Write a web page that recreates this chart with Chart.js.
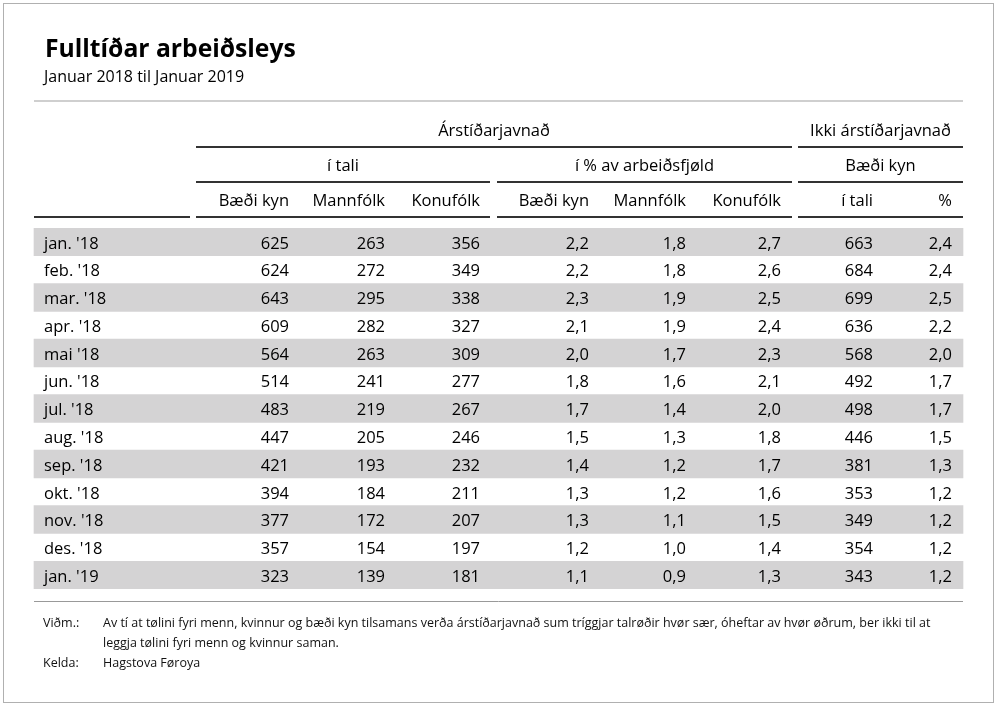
<!DOCTYPE html>
<html>
<head>
<meta charset="utf-8">
<script src="https://cdn.jsdelivr.net/npm/chart.js@4/dist/chart.umd.min.js"></script>
<style>
  html, body { margin: 0; padding: 0; background: #fff; }
  #wrap { position: relative; width: 1000px; height: 705px; font-family: "Open Sans", sans-serif; color: #000; }
  #frame { position: absolute; left: 3px; top: 3px; width: 989px; height: 698px; border: 1px solid #b0b0b0; }
  canvas { position: absolute; left: 0; top: 0; }
  .txt { position: absolute; white-space: nowrap; }
  #title { left: 45px; top: 34px; font-size: 24.7px; font-weight: bold; line-height: 28px; }
  #sub { left: 44px; top: 66px; font-size: 16px; line-height: 20px; }
  .note { font-size: 12.5px; line-height: 20px; color: #111; }
</style>
</head>
<body>
<div id="wrap">
  <div id="frame"></div>
  <canvas id="tbl" width="1000" height="705"></canvas>
  <div class="txt" id="title">Fulltíðar arbeiðsleys</div>
  <div class="txt" id="sub">Januar 2018 til Januar 2019</div>
  <div class="txt note" style="left:43px;top:613px">Viðm.:</div>
  <div class="txt note" style="left:103px;top:613px">Av tí at tølini fyri menn, kvinnur og bæði kyn tilsamans verða árstíðarjavnað sum tríggjar talrøðir hvør sær, óheftar av hvør øðrum, ber ikki til at</div>
  <div class="txt note" style="left:103px;top:633px">leggja tølini fyri menn og kvinnur saman.</div>
  <div class="txt note" style="left:43px;top:653px">Kelda:</div>
  <div class="txt note" style="left:103px;top:653px">Hagstova Føroya</div>
</div>
<script>
// rows
const months = ["jan. '18","feb. '18","mar. '18","apr. '18","mai '18","jun. '18","jul. '18","aug. '18","sep. '18","okt. '18","nov. '18","des. '18","jan. '19"];
// Árstíðarjavnað, í tali
const baediTal = [625,624,643,609,564,514,483,447,421,394,377,357,323];
const mannTal  = [263,272,295,282,263,241,219,205,193,184,172,154,139];
const konuTal  = [356,349,338,327,309,277,267,246,232,211,207,197,181];
// Árstíðarjavnað, í % av arbeiðsfjøld
const baediPct = [2.2,2.2,2.3,2.1,2.0,1.8,1.7,1.5,1.4,1.3,1.3,1.2,1.1];
const mannPct  = [1.8,1.8,1.9,1.9,1.7,1.6,1.4,1.3,1.2,1.2,1.1,1.0,0.9];
const konuPct  = [2.7,2.6,2.5,2.4,2.3,2.1,2.0,1.8,1.7,1.6,1.5,1.4,1.3];
// Ikki árstíðarjavnað, bæði kyn
const ikkiTal  = [663,684,699,636,568,492,498,446,381,353,349,354,343];
const ikkiPct  = [2.4,2.4,2.5,2.2,2.0,1.7,1.7,1.5,1.3,1.2,1.2,1.2,1.2];
// header labels
const colHeads = ['Bæði kyn','Mannfólk','Konufólk','Bæði kyn','Mannfólk','Konufólk','í tali','%'];

const FONT = '"Open Sans", sans-serif';
const tableLeft = 34, tableRight = 963;
const colRight = [289, 385, 480, 589, 686, 781, 873, 952];
const comma = v => v.toFixed(1).replace('.', ',');
const columns = [baediTal, mannTal, konuTal, baediPct.map(comma), mannPct.map(comma), konuPct.map(comma), ikkiTal, ikkiPct.map(comma)];

const tablePlugin = {
  id: 'tablePlugin',
  afterDatasetsDraw(chart){
    const c = chart.ctx;
    const xs = chart.scales.x, ys = chart.scales.y;
    const X = v => xs.getPixelForValue(v);
    c.save();
    c.fillStyle = '#000';
    c.textBaseline = 'middle';

    // rules
    const rule = (x1, x2, y, col, w) => {
      c.strokeStyle = col; c.lineWidth = w;
      c.beginPath(); c.moveTo(X(x1), y); c.lineTo(X(x2), y); c.stroke();
    };
    rule(tableLeft, tableRight, 101, '#cfcfcf', 2);
    rule(196, 792, 147, '#333', 2);
    rule(798, 963, 147, '#333', 2);
    rule(196, 490, 182, '#333', 2);
    rule(497, 792, 182, '#333', 2);
    rule(798, 963, 182, '#333', 2);
    rule(tableLeft, 190, 217, '#333', 2);
    rule(196, 490, 217, '#333', 2);
    rule(497, 792, 217, '#333', 2);
    rule(798, 963, 217, '#333', 2);
    rule(tableLeft, tableRight, 601.5, '#999', 1);

    // group headers
    c.font = '16.5px ' + FONT;
    c.textAlign = 'center';
    c.fillText('Árstíðarjavnað', X((196 + 792) / 2), 131);
    c.fillText('Ikki árstíðarjavnað', X((798 + 963) / 2), 131);
    c.fillText('í tali', X((196 + 490) / 2), 166);
    c.fillText('í % av arbeiðsfjøld', X((497 + 792) / 2), 166);
    c.fillText('Bæði kyn', X((798 + 963) / 2), 166);
    c.textAlign = 'right';
    colHeads.forEach((h, j) => c.fillText(h, X(colRight[j]), 201));

    // body cells
    months.forEach((m, i) => {
      const y = ys.getPixelForValue(i) + 2;
      c.textAlign = 'left';
      c.fillText(m, X(44), y);
      c.textAlign = 'right';
      columns.forEach((col, j) => c.fillText(String(col[i]), X(colRight[j]), y));
    });
    c.restore();
  }
};

new Chart(document.getElementById('tbl'), {
  type: 'bar',
  data: {
    labels: months,
    datasets: [{
      data: months.map((m, i) => i % 2 === 0 ? [tableLeft, tableRight] : null),
      backgroundColor: '#d4d3d4',
      borderWidth: 0,
      barPercentage: 1,
      categoryPercentage: 1
    }]
  },
  options: {
    indexAxis: 'y',
    responsive: false,
    animation: false,
    events: [],
    layout: { padding: { top: 228, bottom: 116, left: 0, right: 0 } },
    plugins: { legend: { display: false }, tooltip: { enabled: false }, title: { display: false } },
    scales: {
      x: { type: 'linear', min: 0, max: 1000, display: false },
      y: { type: 'category', display: false, offset: true, grid: { offset: true } }
    }
  },
  plugins: [tablePlugin]
});
</script>
</body>
</html>
